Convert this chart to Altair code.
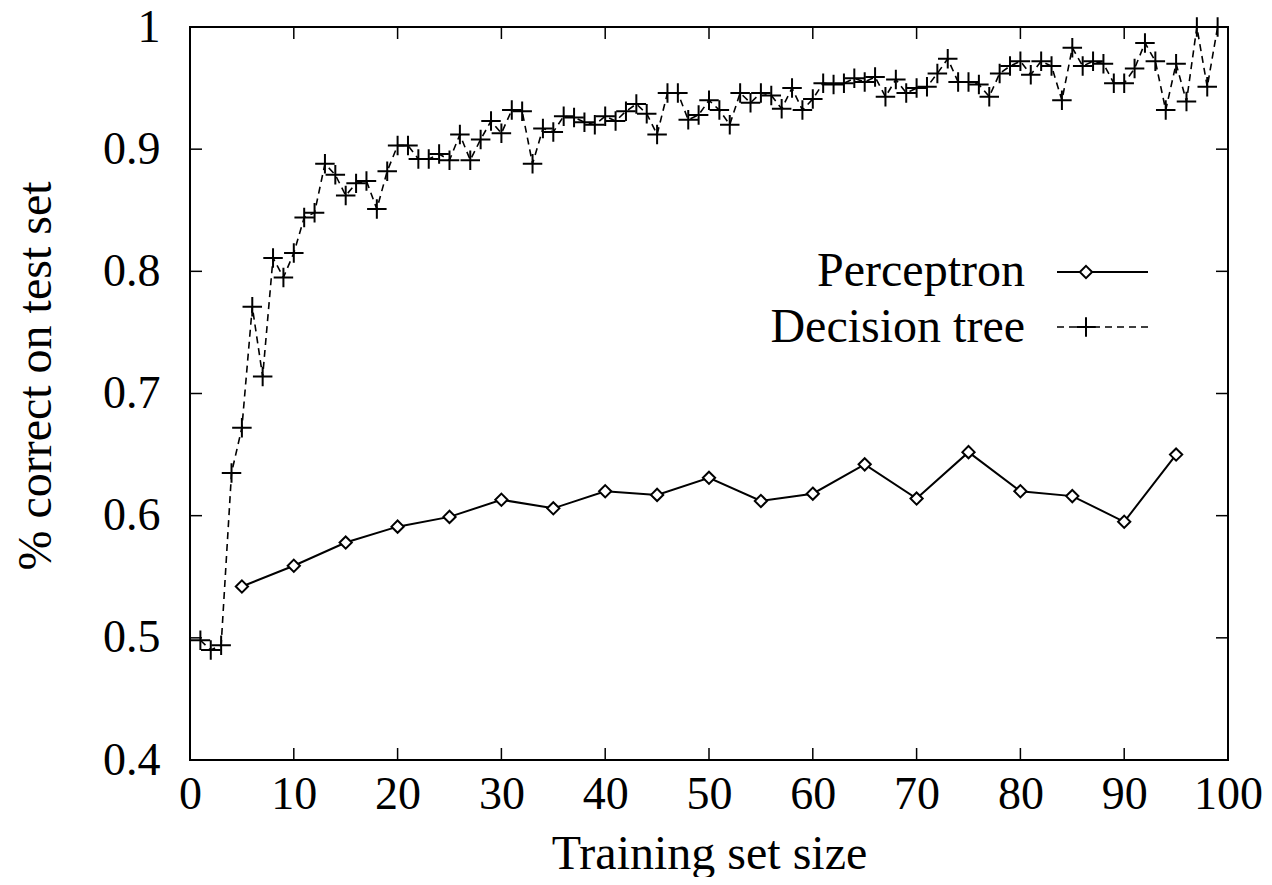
import altair as alt
import pandas as pd

# ---------------- data ----------------
dt_x = list(range(1, 100))
dt_y = [0.498, 0.490, 0.494, 0.635, 0.672, 0.771, 0.714, 0.811, 0.795, 0.815,
        0.844, 0.848, 0.888, 0.879, 0.862, 0.872, 0.874, 0.851, 0.882, 0.903,
        0.903, 0.892, 0.892, 0.896, 0.891, 0.912, 0.891, 0.908, 0.923, 0.913,
        0.932, 0.931, 0.888, 0.917, 0.914, 0.927, 0.926, 0.922, 0.920, 0.927,
        0.923, 0.931, 0.937, 0.929, 0.912, 0.946, 0.946, 0.924, 0.928, 0.940,
        0.932, 0.920, 0.946, 0.938, 0.946, 0.944, 0.933, 0.950, 0.932, 0.941,
        0.954, 0.953, 0.954, 0.958, 0.955, 0.959, 0.943, 0.957, 0.946, 0.950,
        0.951, 0.962, 0.974, 0.955, 0.955, 0.953, 0.943, 0.962, 0.968, 0.972,
        0.961, 0.972, 0.968, 0.940, 0.983, 0.968, 0.972, 0.970, 0.954, 0.954,
        0.966, 0.987, 0.972, 0.932, 0.970, 0.939, 1.000, 0.951, 1.000]
p_x = list(range(5, 100, 5))
p_y = [0.542, 0.559, 0.578, 0.591, 0.599, 0.613, 0.606, 0.620, 0.617, 0.631,
       0.612, 0.618, 0.642, 0.614, 0.652, 0.620, 0.616, 0.595, 0.650]
x_ticks = [0, 10, 20, 30, 40, 50, 60, 70, 80, 90, 100]
y_ticks = [0.4, 0.5, 0.6, 0.7, 0.8, 0.9, 1.0]
legend_names = ["Perceptron", "Decision tree"]
x_title = "Training set size"
y_title = "% correct on test set"

# ---------------- style ----------------
W, H = 1038, 733
FONT = "Liberation Serif"
PLUS = "M-1,0L1,0M0,-1L0,1"
DIAMOND = "M0,-1L1,0L0,1L-1,0Z"

xs = alt.Scale(domain=[0, 100], nice=False, zero=False)
ys = alt.Scale(domain=[0.4, 1.0], nice=False, zero=False)

dt = pd.DataFrame({"x": dt_x, "y": dt_y})
pc = pd.DataFrame({"x": p_x, "y": p_y})

x_axis = alt.Axis(values=x_ticks, title=x_title, grid=False, ticks=False, domain=False,
                  labelFlush=False, labelOverlap=False,
                  labelFont=FONT, labelFontSize=46, labelPadding=12, labelColor="black",
                  titleFont=FONT, titleFontSize=48, titleFontWeight="normal",
                  titleColor="black", titleY=108, titleBaseline="alphabetic")
y_axis = alt.Axis(values=y_ticks, title=y_title, grid=False, ticks=False, domain=False,
                  labelFlush=False, labelOverlap=False,
                  labelExpr="datum.value == 1 ? '1' : format(datum.value, '.1f')",
                  labelFont=FONT, labelFontSize=46, labelPadding=30, labelColor="black",
                  titleFont=FONT, titleFontSize=48, titleFontWeight="normal",
                  titleColor="black", titleX=-140, titleY=H / 2 - 18,
                  titleBaseline="alphabetic")


def X(field):
    return alt.X(field, scale=xs, axis=x_axis)


def Y(field):
    return alt.Y(field, scale=ys, axis=y_axis)


dt_line = alt.Chart(dt).mark_line(color="black", strokeWidth=1.6, strokeDash=[7, 5]).encode(
    x=X("x:Q"), y=Y("y:Q"))
dt_pts = alt.Chart(dt).mark_point(shape=PLUS, size=380, filled=False, color="black",
                                  strokeWidth=2, opacity=1).encode(x=X("x:Q"), y=Y("y:Q"))
pc_line = alt.Chart(pc).mark_line(color="black", strokeWidth=2).encode(
    x=X("x:Q"), y=Y("y:Q"))
pc_pts = alt.Chart(pc).mark_point(shape=DIAMOND, size=150, filled=True, fill="white",
                                  stroke="black", strokeWidth=2, opacity=1).encode(
    x=X("x:Q"), y=Y("y:Q"))

# inward ticks on all four sides
xt = pd.DataFrame({"v": x_ticks})
yt = pd.DataFrame({"v": y_ticks})
tick_style = dict(color="black", strokeWidth=1.5)
xb = alt.Chart(xt).mark_rule(**tick_style).encode(
    x=X("v:Q"), y=alt.value(H), y2=alt.value(H - 12))
xtp = alt.Chart(xt).mark_rule(**tick_style).encode(
    x=X("v:Q"), y=alt.value(0), y2=alt.value(12))
yl = alt.Chart(yt).mark_rule(**tick_style).encode(
    y=Y("v:Q"), x=alt.value(0), x2=alt.value(12))
yr = alt.Chart(yt).mark_rule(**tick_style).encode(
    y=Y("v:Q"), x=alt.value(W), x2=alt.value(W - 12))

# legend (label left, sample right)
lg = pd.DataFrame({"name": legend_names})
text_style = dict(font=FONT, fontSize=48, color="black", align="right", baseline="alphabetic")
lt1 = alt.Chart(lg.iloc[[0]]).mark_text(**text_style).encode(
    text="name:N", x=alt.value(835), y=alt.value(259))
lt2 = alt.Chart(lg.iloc[[1]]).mark_text(**text_style).encode(
    text="name:N", x=alt.value(835), y=alt.value(315))
ls1 = alt.Chart(lg.iloc[[0]]).mark_rule(color="black", strokeWidth=2).encode(
    x=alt.value(867), x2=alt.value(958), y=alt.value(245))
lp1 = alt.Chart(lg.iloc[[0]]).mark_point(shape=DIAMOND, size=150, filled=True, fill="white",
                                         stroke="black", strokeWidth=2, opacity=1).encode(
    x=alt.value(896), y=alt.value(245))
ls2 = alt.Chart(lg.iloc[[1]]).mark_rule(color="black", strokeWidth=1.6, strokeDash=[7, 5]).encode(
    x=alt.value(867), x2=alt.value(958), y=alt.value(300))
lp2 = alt.Chart(lg.iloc[[1]]).mark_point(shape=PLUS, size=380, filled=False, color="black",
                                         strokeWidth=2, opacity=1).encode(
    x=alt.value(896), y=alt.value(300))

chart = alt.layer(
    dt_line, dt_pts, pc_line, pc_pts, xb, xtp, yl, yr,
    ls1, lp1, ls2, lp2, lt1, lt2,
).properties(
    width=W, height=H,
    autosize=alt.AutoSizeParams(type="none"),
    padding={"left": 182, "top": 19, "right": 36, "bottom": 117},
    background="white",
).configure_view(stroke="black", strokeWidth=2)

chart.save("out.html", embed_options={"renderer": "svg", "actions": False})
